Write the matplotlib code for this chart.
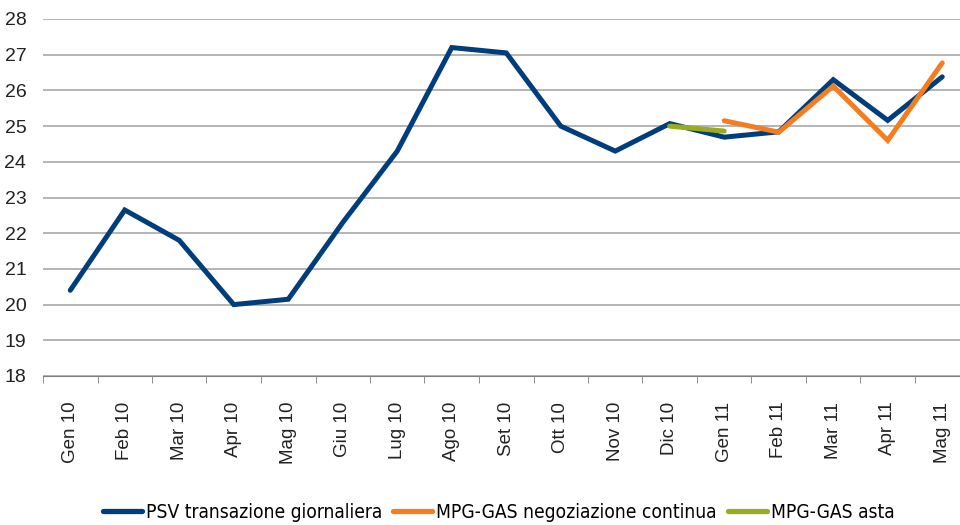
import numpy as np
import matplotlib.pyplot as plt
from matplotlib import font_manager

months = ["Gen 10", "Feb 10", "Mar 10", "Apr 10", "Mag 10", "Giu 10", "Lug 10",
          "Ago 10", "Set 10", "Ott 10", "Nov 10", "Dic 10", "Gen 11", "Feb 11",
          "Mar 11", "Apr 11", "Mag 11"]

psv = [20.4, 22.65, 21.8, 20.0, 20.15, 22.3, 24.3, 27.2, 27.05, 25.0, 24.3,
       25.07, 24.69, 24.84, 26.3, 25.16, 26.38]
mpg_cont = [np.nan] * 12 + [25.15, 24.83, 26.12, 24.6, 26.77]
mpg_asta = [np.nan] * 11 + [25.0, 24.86] + [np.nan] * 4

names = ["PSV transazione giornaliera", "MPG-GAS negoziazione continua", "MPG-GAS asta"]
colors = ["#003d7c", "#f47d20", "#9aab1e"]

# legend in the reference uses a narrow face; pick a regular condensed one if there is one
leg_size = 13.8
cond = [f for f in font_manager.fontManager.ttflist
        if ('ondensed' in f.fname or 'Narrow' in f.name)
        and f.style == 'normal' and f.weight in (400, 'normal', 'regular')
        and 'Bold' not in f.fname and 'Oblique' not in f.fname]
if cond:
    cond.sort(key=lambda f: ('DejaVuSans' not in f.fname, f.fname))
    leg_font = font_manager.FontProperties(fname=cond[0].fname, size=leg_size)
else:
    leg_size = 12.4
    leg_font = font_manager.FontProperties(family='Liberation Sans', size=leg_size)

plt.rcParams['font.family'] = ['Liberation Sans', 'DejaVu Sans']

fig = plt.figure(figsize=(9.6, 5.25), dpi=100)
ax = fig.add_axes([43 / 960, 1 - 376 / 525, 17 * 54.5 / 960, 357 / 525])

x = np.arange(len(months))
for vals, name, c in zip([psv, mpg_cont, mpg_asta], names, colors):
    ax.plot(x, vals, color=c, lw=3.6, label=name, solid_capstyle='round',
            solid_joinstyle='miter')

ax.set_xlim(-0.5, len(months) - 0.5)
ax.set_ylim(18, 28)
ax.set_yticks(range(18, 29))
ax.yaxis.grid(True, color="#a0a0a0", lw=1.1)
ax.set_axisbelow(True)
for s in ["top", "right", "left"]:
    ax.spines[s].set_visible(False)
ax.spines["bottom"].set_color("#7f7f7f")
ax.tick_params(axis='y', length=0, labelsize=14, pad=12, labelcolor="#222222")

ax.set_xticks(x)
ax.set_xticklabels(months, rotation=90, fontsize=13.5, color="#222222")
ax.set_xticks(np.arange(-0.5, len(months)), minor=True)
ax.tick_params(axis='x', which='major', length=0, pad=18.5)
ax.tick_params(axis='x', which='minor', length=5, color="#7f7f7f", direction='out')

px = leg_size * 100 / 72
leg = fig.legend(loc='lower left', bbox_to_anchor=(103 / 960, 3 / 525), ncol=3,
                 frameon=False, borderpad=0, borderaxespad=0,
                 handlelength=39 / px, handletextpad=4 / px,
                 columnspacing=11 / px, prop=leg_font)
for h in leg.legend_handles:
    h.set_linewidth(3.8)

fig.savefig("out.png", dpi=100)
